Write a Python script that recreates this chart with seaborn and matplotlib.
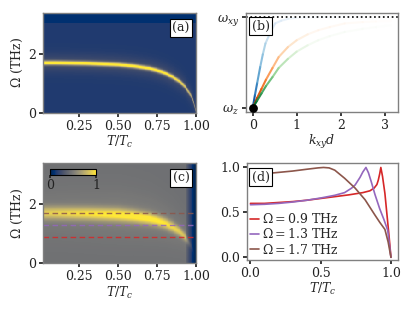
import numpy as np
import pandas as pd
import matplotlib
matplotlib.use("Agg")
import matplotlib.pyplot as plt
import seaborn as sns
from matplotlib.collections import LineCollection

# ---------------------------------------------------------------
# data
# ---------------------------------------------------------------
# resonance position vs T/Tc (panels a and c)
t_peak = [0.0, 0.1, 0.2, 0.3, 0.4, 0.5, 0.6, 0.7, 0.75, 0.8, 0.85, 0.9, 0.93, 0.96, 0.98, 1.0]
omega_peak = [1.70, 1.70, 1.69, 1.68, 1.66, 1.64, 1.59, 1.51, 1.44, 1.35, 1.22, 1.04, 0.88, 0.64, 0.44, 0.0]
# peak height / half width (THz) along the resonance
amp_a = [0.84, 0.84, 0.84, 0.84, 0.84, 0.84, 0.83, 0.82, 0.81, 0.79, 0.76, 0.70, 0.64, 0.54, 0.42, 0.25]
hw_a = [0.075, 0.075, 0.075, 0.075, 0.075, 0.075, 0.075, 0.075, 0.075, 0.075, 0.075, 0.075, 0.07, 0.07, 0.07, 0.07]
amp_c = [0.40, 0.42, 0.45, 0.48, 0.51, 0.54, 0.55, 0.54, 0.52, 0.49, 0.45, 0.39, 0.34, 0.27, 0.19, 0.08]
hw_c = [0.22, 0.22, 0.22, 0.22, 0.22, 0.22, 0.21, 0.20, 0.19, 0.18, 0.17, 0.15, 0.14, 0.12, 0.10, 0.08]
bg_a = 0.14
bg_c = 0.44

# dashed cuts in (c) and line cuts in (d)
cut_freqs = [0.9, 1.3, 1.7]
cut_colors = ["tab:red", "tab:purple", "tab:brown"]

t_red = [0, 0.1, 0.2, 0.3, 0.4, 0.5, 0.6, 0.7, 0.8, 0.85, 0.88, 0.9, 0.91, 0.92, 0.928, 0.94, 0.957, 0.97, 0.985, 1.0]
y_red = [0.60, 0.60, 0.61, 0.62, 0.635, 0.655, 0.675, 0.695, 0.72, 0.74, 0.77, 0.81, 0.86, 0.93, 1.0, 0.90, 0.71, 0.50, 0.26, 0.0]
t_purple = [0, 0.1, 0.2, 0.3, 0.4, 0.5, 0.6, 0.67, 0.72, 0.745, 0.78, 0.8, 0.822, 0.84, 0.86, 0.886, 0.92, 0.95, 0.977, 1.0]
y_purple = [0.585, 0.59, 0.60, 0.615, 0.635, 0.66, 0.69, 0.72, 0.77, 0.805, 0.89, 0.95, 1.0, 0.94, 0.84, 0.70, 0.54, 0.42, 0.30, 0.0]
t_brown = [0, 0.1, 0.2, 0.3, 0.4, 0.48, 0.52, 0.56, 0.6, 0.67, 0.745, 0.816, 0.886, 0.92, 0.957, 0.98, 1.0]
y_brown = [0.916, 0.93, 0.945, 0.96, 0.98, 0.995, 1.0, 0.995, 0.97, 0.88, 0.77, 0.64, 0.47, 0.39, 0.31, 0.17, 0.0]

# dispersion curves (panel b), frequency normalised between w_z (0) and w_xy (1)
k_blue = [0, 0.05, 0.1, 0.17, 0.23, 0.29, 0.4, 0.51, 0.65, 0.8, 0.96, 1.2, 1.6, 2.0, 2.5, 3.14]
w_blue = [0, 0.14, 0.27, 0.45, 0.59, 0.71, 0.83, 0.93, 0.96, 0.98, 0.99, 0.995, 1.0, 1.0, 1.0, 1.0]
k_orange = [0, 0.1, 0.2, 0.3, 0.45, 0.59, 0.8, 1.0, 1.25, 1.49, 1.75, 2.09, 2.5, 2.8, 3.14]
w_orange = [0, 0.11, 0.21, 0.31, 0.44, 0.56, 0.67, 0.745, 0.81, 0.855, 0.89, 0.93, 0.945, 0.952, 0.957]
k_green = [0, 0.1, 0.2, 0.3, 0.45, 0.59, 0.8, 1.0, 1.25, 1.49, 1.75, 2.09, 2.5, 2.8, 3.14]
w_green = [0, 0.08, 0.16, 0.24, 0.34, 0.44, 0.54, 0.62, 0.69, 0.745, 0.79, 0.836, 0.87, 0.89, 0.91]

# ---------------------------------------------------------------
# style
# ---------------------------------------------------------------
sns.set_theme(style="ticks")
plt.rcParams["font.family"] = ["DejaVu Serif"]
plt.rcParams["mathtext.fontset"] = "dejavuserif"
plt.rcParams["font.size"] = 9
plt.rcParams["axes.edgecolor"] = "#808080"
plt.rcParams["axes.linewidth"] = 1.0
plt.rcParams["xtick.color"] = "#222222"
plt.rcParams["ytick.color"] = "#222222"
plt.rcParams["xtick.labelsize"] = 9
plt.rcParams["ytick.labelsize"] = 9
plt.rcParams["axes.labelsize"] = 9
plt.rcParams["xtick.major.size"] = 3
plt.rcParams["ytick.major.size"] = 3
plt.rcParams["xtick.major.pad"] = 2
plt.rcParams["ytick.major.pad"] = 2

fig = plt.figure(figsize=(4.15, 3.11), dpi=100)
ax_a = fig.add_axes([0.104, 0.637, 0.369, 0.322])
ax_b = fig.add_axes([0.593, 0.640, 0.366, 0.318])
ax_c = fig.add_axes([0.104, 0.154, 0.369, 0.322])
ax_d = fig.add_axes([0.595, 0.164, 0.364, 0.312])

box = dict(boxstyle="square,pad=0.2", fc="white", ec="black", lw=0.8)

# ---------------------------------------------------------------
# spectral maps (a), (c)
# ---------------------------------------------------------------
t_grid = np.linspace(0.019, 1.0, 180)
w_grid = np.linspace(0.0, 3.4, 240)
TT, WW = np.meshgrid(t_grid, w_grid)
w0 = np.interp(TT, t_peak, omega_peak)


def spectrum(amp, hw, bg, glow):
    a = np.interp(TT, t_peak, amp)
    g = np.interp(TT, t_peak, hw)
    z = bg + a * np.exp(-((WW - w0) / g) ** 2) + glow * a * np.exp(-((WW - w0) / (4 * g)) ** 2)
    return np.clip(z, 0, 1)


za = spectrum(amp_a, hw_a, bg_a, 0.12)
za[WW > 3.05] -= 0.06
ax_a.pcolormesh(t_grid, w_grid, za, cmap="cividis", vmin=0, vmax=1, shading="auto", rasterized=True)

zc = spectrum(amp_c, hw_c, bg_c, 0.12)
zc = np.where(TT > 0.93, zc * np.clip((1.0 - TT) / 0.07, 0.08, 1) ** 1.5, zc)
mesh_c = ax_c.pcolormesh(t_grid, w_grid, zc, cmap="cividis", vmin=0, vmax=1, shading="auto", rasterized=True)

for f, c in zip(cut_freqs, cut_colors):
    ax_c.axhline(f, color=c, ls=(0, (4, 2.5)), lw=1.0, alpha=0.85)

for ax, lab in [(ax_a, "(a)"), (ax_c, "(c)")]:
    ax.set_xlim(0.019, 1.0)
    ax.set_ylim(0, 3.4)
    ax.set_xticks([0.25, 0.5, 0.75, 1.0])
    ax.set_yticks([0, 2])
    ax.set_xlabel(r"$T/T_c$", labelpad=1)
    ax.set_ylabel(r"$\Omega$ (THz)", labelpad=2)
    ax.text(0.955, 0.91, lab, transform=ax.transAxes, ha="right", va="top", bbox=box)

cax = ax_c.inset_axes([0.046, 0.883, 0.30, 0.054])
cb = fig.colorbar(mesh_c, cax=cax, orientation="horizontal", ticks=[0, 1])
cb.outline.set_edgecolor("black")
cb.outline.set_linewidth(0.8)
cax.tick_params(length=2, pad=1, labelsize=9)

# ---------------------------------------------------------------
# dispersion (b)
# ---------------------------------------------------------------
def faded_line(ax, x, y, cmap):
    xs = np.asarray(x, float)
    ys = np.asarray(y, float)
    pts = np.column_stack([xs, ys])
    seg = np.stack([pts[:-1], pts[1:]], axis=1)
    # fade along arc length in display units
    d = np.hypot(np.diff(xs) * 44, np.diff(ys) * 91)
    s = np.concatenate([[0], np.cumsum(d)])
    frac = (s[:-1] + s[1:]) / 2 / s[-1]
    cols = plt.get_cmap(cmap)(0.05 + 0.9 * np.clip(frac * 1.8, 0, 1) ** 0.8)
    cols[:, 3] = np.clip(1.0 - 0.95 * frac, 0.05, 1)
    ax.add_collection(LineCollection(seg, colors=cols, lw=1.5, capstyle="round"))


faded_line(ax_b, k_blue, w_blue, "Blues_r")
faded_line(ax_b, k_orange, w_orange, "Oranges_r")
faded_line(ax_b, k_green, w_green, "Greens_r")
ax_b.scatter([0], [0], s=28, color="black", zorder=5, clip_on=False)
ax_b.axhline(1.0, color="black", ls=":", lw=1.2, clip_on=False)
ax_b.set_xlim(-0.15, 3.3)
ax_b.set_ylim(-0.044, 1.044)
ax_b.set_xticks([0, 1, 2, 3])
ax_b.set_yticks([0, 1])
ax_b.set_yticklabels([r"$\omega_z$", r"$\omega_{xy}$"])
ax_b.set_xlabel(r"$k_{xy}d$", labelpad=1)
ax_b.text(0.037, 0.93, "(b)", transform=ax_b.transAxes, ha="left", va="top", bbox=box)

# ---------------------------------------------------------------
# line cuts (d)
# ---------------------------------------------------------------
cuts = pd.concat([
    pd.DataFrame({"T": t_red, "I": y_red, "cut": r"$\Omega = 0.9$ THz"}),
    pd.DataFrame({"T": t_purple, "I": y_purple, "cut": r"$\Omega = 1.3$ THz"}),
    pd.DataFrame({"T": t_brown, "I": y_brown, "cut": r"$\Omega = 1.7$ THz"}),
])
sns.lineplot(data=cuts, x="T", y="I", hue="cut", palette=cut_colors, lw=1.2, ax=ax_d, sort=False)
ax_d.set_xlim(-0.025, 1.05)
ax_d.set_ylim(-0.03, 1.05)
ax_d.set_xticks([0, 0.5, 1.0])
ax_d.set_yticks([0, 0.5, 1.0])
ax_d.set_xlabel(r"$T/T_c$", labelpad=1)
ax_d.set_ylabel("")
ax_d.legend(loc="center left", bbox_to_anchor=(-0.01, 0.265), frameon=False, borderaxespad=0,
            handlelength=0.7, handletextpad=0.2, labelspacing=0.1, fontsize=9)
ax_d.text(0.031, 0.92, "(d)", transform=ax_d.transAxes, ha="left", va="top", bbox=box)

fig.savefig("out.png", dpi=100)
